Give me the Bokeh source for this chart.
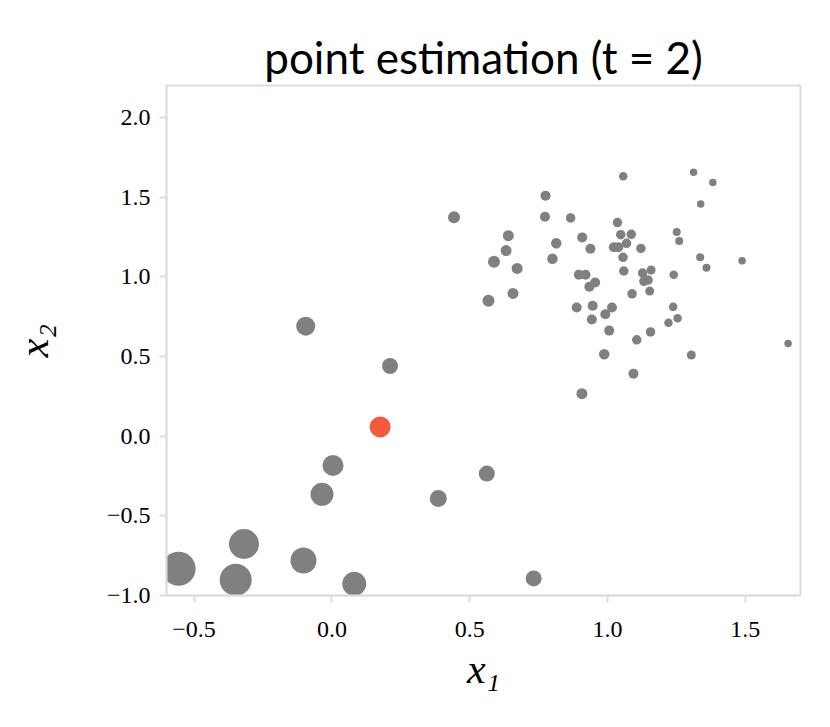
from bokeh.plotting import figure
from bokeh.models import FixedTicker, CustomJSTickFormatter, Range1d, ColumnDataSource
from bokeh.embed import file_html
from bokeh.resources import INLINE

# particles (x1, x2) and their weights (marker diameter)
x1 = [-0.095, 0.211, 0.004, -0.036, 0.386, 0.562, -0.556, -0.319, -0.349, -0.103, 0.081, 0.732, 0.568,
      0.443, 0.775, 0.773, 0.866, 0.640, 0.632, 0.588, 0.672, 0.657, 0.800, 0.814,
      1.057, 1.312, 1.382, 1.338, 1.488, 1.655, 1.336, 1.359, 1.251, 1.260, 1.304,
      1.240, 1.238, 1.254, 1.221, 0.907, 1.094, 0.988,
      1.036, 0.908, 1.048, 1.086, 1.069, 1.023, 1.039, 0.938, 1.121, 1.056, 1.059,
      1.127, 1.158, 0.896, 0.920, 0.955, 0.934, 1.132, 1.147, 1.089, 1.153, 0.888,
      0.946, 1.016, 0.992, 0.943, 1.006, 1.156, 1.106]
x2 = [0.690, 0.440, -0.184, -0.365, -0.392, -0.235, -0.832, -0.677, -0.901, -0.780, -0.927, -0.893, 0.849,
      1.373, 1.509, 1.377, 1.369, 1.258, 1.164, 1.094, 1.052, 0.895, 1.113, 1.210,
      1.631, 1.656, 1.591, 1.457, 1.101, 0.581, 1.122, 1.057, 1.281, 1.224, 0.509,
      1.013, 0.811, 0.740, 0.711, 0.266, 0.392, 0.514,
      1.340, 1.247, 1.264, 1.266, 1.210, 1.185, 1.185, 1.176, 1.178, 1.122, 1.036,
      1.023, 1.042, 1.013, 1.013, 0.964, 0.937, 0.971, 0.979, 0.893, 0.910, 0.807,
      0.818, 0.807, 0.765, 0.732, 0.662, 0.654, 0.604]
weights = [19, 16, 21, 23, 17, 16, 34, 30, 32, 26, 24, 16, 12,
           12, 10, 10, 9.5, 11, 11, 12, 11, 11, 10.5, 10.5,
           8.5, 7.5, 7.5, 7.5, 7.5, 7.5, 8, 8, 8, 8, 9,
           8.5, 8.5, 8.5, 8.5, 11, 10, 10.5,
           9.5, 10, 9.5, 9.5, 9.5, 10, 10, 10, 9.5, 9.5, 9.5,
           9.5, 9, 10, 10, 10, 10, 9.5, 9.5, 9.5, 9, 10,
           10, 10, 10, 10, 10, 9.5, 9.5]

# point estimate
est_x1 = [0.175]
est_x2 = [0.058]
est_weight = [21]

x_ticks = [-0.5, 0.0, 0.5, 1.0, 1.5]
y_ticks = [-1.0, -0.5, 0.0, 0.5, 1.0, 1.5, 2.0]

p = figure(width=822, height=719, output_backend="svg", toolbar_location=None,
           x_range=Range1d(-0.6, 1.7), y_range=Range1d(-1.0, 2.2),
           min_border_left=166, min_border_right=22, min_border_top=85, min_border_bottom=124)

p.title.text = "point estimation (t = 2)"
p.title.align = "center"
p.title.text_font = "Lato"
p.title.text_font_style = "normal"
p.title.text_font_size = "44px"
p.title.text_color = "black"
p.title.standoff = 6

p.scatter(x="x1", y="x2", size="w", source=ColumnDataSource(dict(x1=x1, x2=x2, w=weights)),
          fill_color="#808080", line_color=None)
p.scatter(x=est_x1, y=est_x2, size=est_weight, fill_color="#f65a3c", line_color=None)

fmt = CustomJSTickFormatter(code="return (tick < 0 ? '\\u2212' : '') + Math.abs(tick).toFixed(1);")
p.xaxis.ticker = FixedTicker(ticks=x_ticks)
p.yaxis.ticker = FixedTicker(ticks=y_ticks)
for ax in (p.xaxis[0], p.yaxis[0]):
    ax.formatter = fmt
    ax.axis_line_color = "#dddddd"
    ax.axis_line_width = 2
    ax.major_tick_line_color = "#dddddd"
    ax.major_tick_line_width = 2
    ax.major_tick_out = 7
    ax.major_tick_in = 0
    ax.minor_tick_line_color = None
    ax.major_label_text_font = "Liberation Serif"
    ax.major_label_text_font_size = "24px"
    ax.major_label_text_color = "black"
    ax.axis_label_text_font = "Liberation Serif"
    ax.axis_label_text_font_style = "italic"
    ax.axis_label_text_font_size = "42px"
    ax.axis_label_text_color = "black"
p.xaxis.axis_label = "x₁"
p.yaxis.axis_label = "x₂"
p.xaxis.major_label_standoff = 19
p.yaxis.major_label_standoff = 9
p.xaxis.axis_label_standoff = 6
p.yaxis.axis_label_standoff = 47

p.xgrid.grid_line_color = None
p.ygrid.grid_line_color = None
p.outline_line_color = "#dddddd"
p.outline_line_width = 2
p.background_fill_color = "white"
p.border_fill_color = "white"

open("out.html", "w").write(file_html(p, INLINE))
